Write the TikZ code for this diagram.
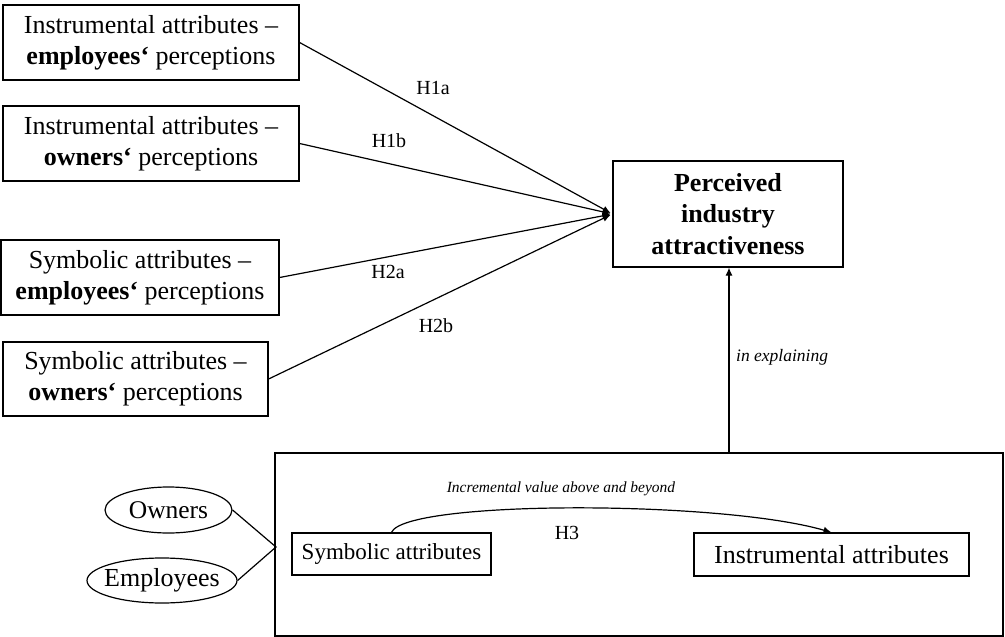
\documentclass[tikz,border=0pt]{standalone}
\usepackage{fontspec}
\setmainfont{Liberation Serif}
\usetikzlibrary{arrows.meta,shapes.geometric}
\begin{document}
\begin{tikzpicture}[x=1pt,y=-1pt,
  box/.style={draw, line width=1.2pt, inner sep=0pt, align=center,
              font=\fontsize{26}{31}\selectfont},
  oval/.style={ellipse, draw, line width=1.2pt, inner sep=0pt,
               inner xsep=-14pt, font=\fontsize{25.5}{27}\selectfont},
  hyp/.style={font=\fontsize{20}{22}\selectfont, inner sep=0pt},
  note/.style={font=\itshape\fontsize{17.5}{19}\selectfont, inner sep=0pt},
  link/.style={line width=1.2pt},
  tip/.style={-{Latex[length=8pt,width=7pt]}}
]
\useasboundingbox (0,0) rectangle (1005,637);

% predictor boxes
\node[box, minimum width=296, minimum height=75] (ie) at (151,42.5)
  {Instrumental attributes –\\\textbf{employees‘} perceptions};
\node[box, minimum width=296, minimum height=75] (io) at (151,143.5)
  {Instrumental attributes –\\\textbf{owners‘} perceptions};
\node[box, minimum width=278, minimum height=75] (se) at (140,277.5)
  {Symbolic attributes –\\\textbf{employees‘} perceptions};
\node[box, minimum width=265, minimum height=74] (so) at (135.5,379)
  {Symbolic attributes –\\\textbf{owners‘} perceptions};

% outcome
\node[box, minimum width=230, minimum height=106,
      font=\bfseries\fontsize{26}{31.5}\selectfont] (pia) at (728,214)
  {Perceived\\industry\\attractiveness};

% hypotheses H1a--H2b
\foreach \src in {ie,io,se,so}
  \draw[link, tip, shorten >=2pt] (\src.east) -- (pia.west);
\node[hyp] (h1a) at (433,88) {H1a};
\node[hyp] (h1b) at (389,141) {H1b};
\node[hyp] (h2a) at (388,272) {H2a};
\node[hyp] (h2b) at (436,326) {H2b};

% lower frame with H3
\node[draw, line width=1.2pt, minimum width=728, minimum height=183, inner sep=0pt]
  (frame) at (639,544.5) {};
\node[box, minimum width=199, minimum height=42, font=\fontsize{23}{25}\selectfont]
  (sym) at (391.5,554) {Symbolic attributes};
\node[box, minimum width=275, minimum height=43] (ins) at (831.5,554.5)
  {Instrumental attributes};
\draw[link, tip] (sym.north) .. controls (405,500) and (720,500) .. (ins.north);
\node[note, font=\itshape\fontsize{15.5}{18}\selectfont] (incr) at (561,489)
  {Incremental value above and beyond};
\node[hyp] (h3) at (567,533) {H3};

% frame to outcome
\coordinate (up) at (729,453);
\draw[link, tip] (up) -- (up |- pia.south);
\node[note, anchor=west] (expl) at (736,357) {in explaining};

% groups
\node[oval, minimum width=127, minimum height=46] (own) at (168.5,510) {Owners};
\node[oval, minimum width=150, minimum height=45,
      font=\fontsize{26}{27}\selectfont] (emp) at (162,580.5) {Employees};
\coordinate (join) at (276,547);
\draw[link] (own.east) -- (join) -- (emp.east);
\end{tikzpicture}
\end{document}
